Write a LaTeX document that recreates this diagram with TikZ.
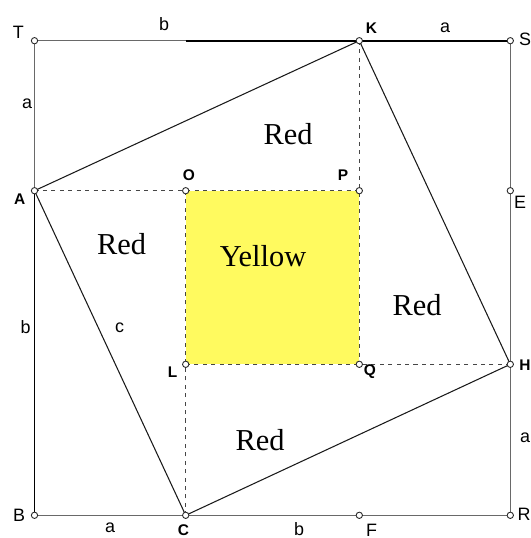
\documentclass[tikz,border=0pt]{standalone}
\usepackage{fontspec}
\setmainfont{Liberation Sans}
\newfontfamily\areafont{Liberation Serif}
\usepackage{tikz}
\usetikzlibrary{positioning}
\definecolor{sqgray}{RGB}{105,105,105}
\definecolor{dashgray}{RGB}{70,70,70}
\definecolor{sqyellow}{RGB}{255,250,95}
\tikzset{
  frame/.style={color=sqgray, line width=0.6pt},
  boldframe/.style={color=black, line width=1pt},
  side/.style={color=black!90, line width=0.6pt},
  guide/.style={color=dashgray, line width=0.6pt, dash pattern=on 2.3pt off 2.5pt},
  dot/.style={circle, draw=black!85, fill=white, line width=0.5pt,
    inner sep=0pt, minimum size=3.6pt},
  vlabel/.style={inner sep=0pt, font=\fontsize{10.2}{12}\selectfont},
  plabel/.style={inner sep=0pt, font=\fontsize{8.8}{10}\selectfont\bfseries},
  area/.style={inner sep=0pt, font=\areafont\fontsize{17.3}{20}\selectfont}
}
\begin{document}
\begin{tikzpicture}[x=0.02cm, y=-0.02cm]
  \useasboundingbox (0,0) rectangle (531,538);

  % outer square and its points
  \coordinate (T) at (34.5,40.7);
  \coordinate (S) at (510.3,40.7);
  \coordinate (R) at (510.3,515.3);
  \coordinate (B) at (34.5,515.3);
  \coordinate (K) at (359.3,40.7);
  \coordinate (A) at (34.5,190.7);
  \coordinate (C) at (185.7,515.3);
  \coordinate (H) at (510.3,364.3);
  \coordinate (E) at (510.3,190.7);
  \coordinate (F) at (359.3,515.3);

  % inner square
  \coordinate (O) at (185.7,190.7);
  \coordinate (P) at (359.3,190.7);
  \coordinate (Q) at (359.3,364.3);
  \coordinate (L) at (185.7,364.3);

  \fill[sqyellow] (O) rectangle (Q);

  \draw[frame] (T) -- (S) -- (R) -- (B) -- cycle;
  \draw[boldframe] (O |- T) -- (S);
  \draw[boldframe] (A) -- (B);

  \draw[guide] (A) -- (P);
  \draw[guide] (K) -- (Q);
  \draw[guide] (H) -- (L);
  \draw[guide] (C) -- (O);

  \draw[side] (A) -- (K) -- (H) -- (C) -- cycle;

  \foreach \p in {T,S,R,B,K,A,C,H,E,F,O,P,Q,L}
    \node[dot] at (\p) {};

  % labels of the points
  \node[vlabel] (lblT) at (18.3,32.5) {T};
  \node[vlabel] (lblS) at (525,39) {S};
  \node[vlabel] (lblR) at (524,514.5) {R};
  \node[vlabel] (lblB) at (19,515) {B};
  \node[vlabel] (lblE) at (520,202) {E};
  \node[vlabel] (lblF) at (371.5,530.5) {F};
  \node[plabel] (lblK) at (371.5,28.5) {K};
  \node[plabel] (lblA) at (19.7,198.7) {A};
  \node[plabel] (lblO) at (189,174.7) {O};
  \node[plabel] (lblP) at (343,175.5) {P};
  \node[plabel] (lblL) at (172.5,372.5) {L};
  \node[plabel] (lblQ) at (370,372) {Q};
  \node[plabel] (lblH) at (525,365) {H};
  \node[plabel] (lblC) at (183.5,530) {C};

  % lengths
  \node[vlabel] (lenTK) at (164,24.5) {b};
  \node[vlabel] (lenKS) at (445,27.5) {a};
  \node[vlabel] (lenTA) at (27,103.7) {a};
  \node[vlabel] (lenAB) at (25.7,327) {b};
  \node[vlabel] (lenAC) at (119.5,327.5) {c};
  \node[vlabel] (lenBC) at (110,527.5) {a};
  \node[vlabel] (lenCR) at (299,529.5) {b};
  \node[vlabel] (lenHR) at (525,437.5) {a};

  % areas
  \node[area] (redtop) at (288,134) {Red};
  \node[area] (redleft) at (121.7,244.5) {Red};
  \node[area] (redright) at (417,305) {Red};
  \node[area] (redbottom) at (260,440) {Red};
  \node[area] (yellow) at (263,256) {Yellow};
\end{tikzpicture}
\end{document}
